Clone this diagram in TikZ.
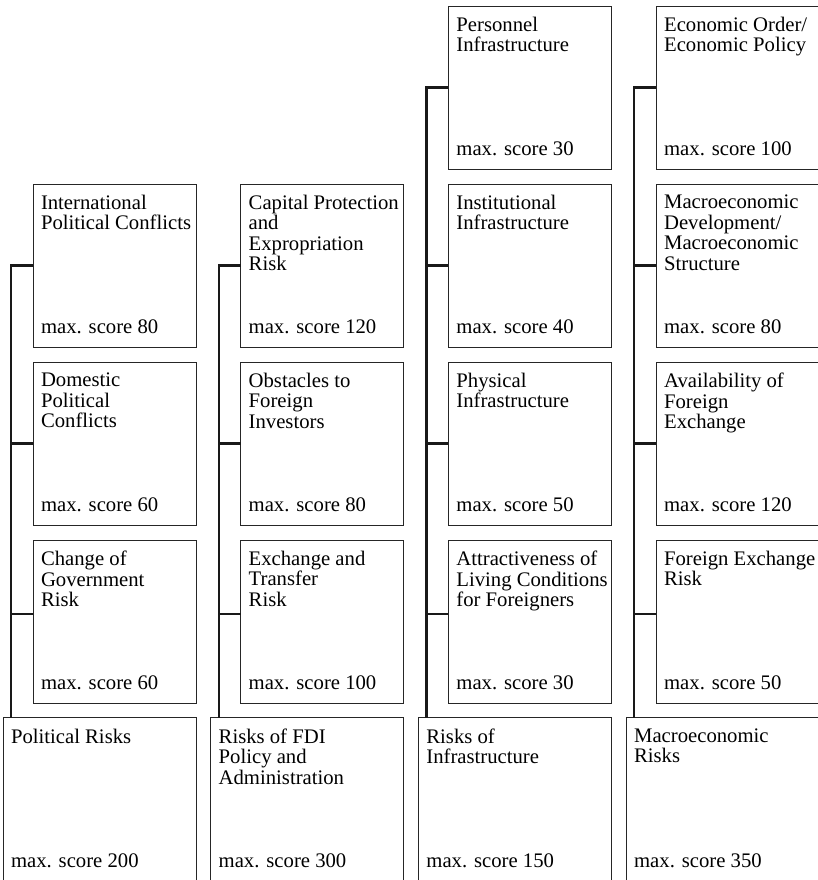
\documentclass[tikz,border=0pt]{standalone}
\usepackage{fontspec}
\setmainfont{Liberation Serif}
\usetikzlibrary{positioning,calc}
\tikzset{
  factor/.style={draw=black!85, line width=0.9pt, rectangle, anchor=north west,
    inner sep=0pt, outer sep=0pt, minimum width=163pt, minimum height=163pt},
  group/.style={factor, minimum width=193pt},
  boxtitle/.style={inner sep=0pt, outer sep=0pt, align=left, text=black},
  boxscore/.style={inner sep=0pt, outer sep=0pt, text=black},
  spine/.style={draw=black!90, line width=2.2pt}
}
\def\riskbox[#1](#2)(#3,#4)#5#6{%
  \node[#1] (#2) at (#3,#4) {};
  \node[boxtitle, below right=11pt and 8pt of #2.north west] (#2-title) {#5};
  \node[boxscore, above right=13pt and 8pt of #2.south west] (#2-score) {max. score #6};
}

\begin{document}
\begin{tikzpicture}[x=1pt, y=-1pt, font={\fontsize{20.7}{20.5}\selectfont}]
				\useasboundingbox (0,0) rectangle (818,880);
				\clip (0,0) rectangle (818,880);
				
				% political risks
				\riskbox[factor](pol-a)(33,184){International\\Political Conflicts}{80}
				\riskbox[factor](pol-b)(33,362){Domestic\\Political\\Conflicts}{60}
				\riskbox[factor](pol-c)(33,540){Change of\\Government\\Risk}{60}
				\riskbox[group](pol)(3,717.7){Political Risks}{200}
				\draw[spine] (pol-a.west) -- ++(-22,0) -- ([xshift=8pt]pol.north west);
				\draw[spine] (pol-b.west) -- ++(-22,0);
				\draw[spine] ([yshift=7.5pt]pol-c.west) -- ++(-22,0);
				
				% FDI policy
				\riskbox[factor](fdi-a)(240.7,184){Capital Protection\\and\\Expropriation\\Risk}{120}
				\riskbox[factor](fdi-b)(240.7,362){Obstacles to\\Foreign\\Investors}{80}
				\riskbox[factor](fdi-c)(240.7,540){Exchange and\\Transfer\\Risk}{100}
				\riskbox[group](fdi)(210.7,717.7){Risks of FDI\\Policy and\\Administration}{300}
				\draw[spine] (fdi-a.west) -- ++(-22,0) -- ([xshift=8pt]fdi.north west);
				\draw[spine] (fdi-b.west) -- ++(-22,0);
				\draw[spine] ([yshift=7.5pt]fdi-c.west) -- ++(-22,0);
				
				% infrastructure
				\riskbox[factor](inf-a)(448.4,6){Personnel\\Infrastructure}{30}
				\riskbox[factor](inf-b)(448.4,184){Institutional\\Infrastructure}{40}
				\riskbox[factor](inf-c)(448.4,362){Physical\\Infrastructure}{50}
				\riskbox[factor](inf-d)(448.4,540){Attractiveness of\\Living Conditions\\for Foreigners}{30}
				\riskbox[group](inf)(418.4,717.7){Risks of\\Infrastructure}{150}
				\draw[spine] (inf-a.west) -- ++(-22,0) -- ([xshift=8pt]inf.north west);
				\draw[spine] (inf-b.west) -- ++(-22,0);
				\draw[spine] (inf-c.west) -- ++(-22,0);
				\draw[spine] ([yshift=7.5pt]inf-d.west) -- ++(-22,0);
				
				% macroeconomics
				\riskbox[factor](mac-a)(656.1,6){Economic Order/\\Economic Policy}{100}
				\riskbox[factor](mac-b)(656.1,184){Macroeconomic\\Development/\\Macroeconomic\\Structure}{80}
				\riskbox[factor](mac-c)(656.1,362){Availability of\\Foreign\\Exchange}{120}
				\riskbox[factor](mac-d)(656.1,540){Foreign Exchange\\Risk}{50}
				\riskbox[group](mac)(626.1,717.7){Macroeconomic\\Risks}{350}
				\draw[spine] (mac-a.west) -- ++(-22,0) -- ([xshift=8pt]mac.north west);
				\draw[spine] (mac-b.west) -- ++(-22,0);
				\draw[spine] (mac-c.west) -- ++(-22,0);
				\draw[spine] ([yshift=7.5pt]mac-d.west) -- ++(-22,0);
\end{tikzpicture}
\end{document}
